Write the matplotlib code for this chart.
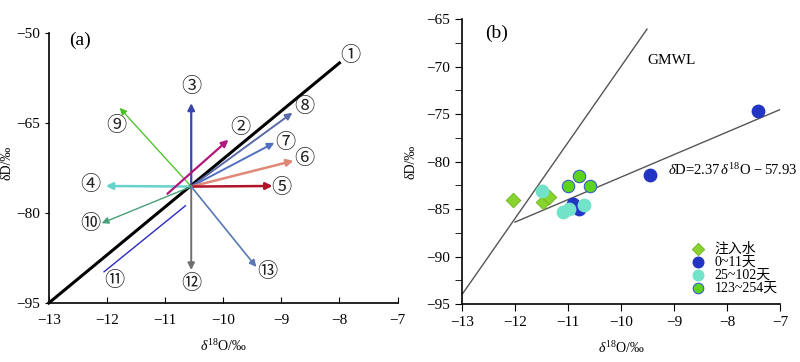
import matplotlib
matplotlib.use("Agg")
import matplotlib.pyplot as plt
from matplotlib.ticker import MultipleLocator

plt.rcParams['font.family'] = ['Liberation Serif', 'Noto Sans CJK SC', 'DejaVu Sans']
plt.rcParams['axes.unicode_minus'] = True
plt.rcParams['mathtext.fontset'] = 'custom'
plt.rcParams['mathtext.rm'] = 'Liberation Serif'
plt.rcParams['mathtext.it'] = 'Liberation Serif:italic'
plt.rcParams['mathtext.bf'] = 'Liberation Serif:bold'

# ---------- panel (a) data ----------
gmwl_a_x = [-13.0, -8.0]
gmwl_a_y = [-95.0, -55.0]
center = (-10.55, -75.6)
arrow_ids = ['③', '⑧', '⑦', '⑥', '⑤', '④', '⑨', '⑩', '⑫', '⑬']
arrow_end_x = [-10.55, -8.81, -9.12, -8.79, -9.15, -12.02, -11.78, -12.09, -10.55, -9.43]
arrow_end_y = [-61.7, -63.3, -68.3, -71.3, -75.5, -75.5, -62.5, -81.7, -89.5, -89.0]
arrow_colors = ['#3a46a8', '#5a6aa8', '#5070c0', '#e08878', '#b01428', '#66d2cc',
                '#44c020', '#4a9e7a', '#6e6e6e', '#5878b4']
arrow_widths = [1.6, 1.4, 1.4, 1.8, 1.8, 1.8, 0.9, 1.0, 1.4, 1.2]
arrow2_start = (-10.96, -76.8)
arrow2_end = (-9.91, -67.8)
line11_x = [-12.05, -10.65]
line11_y = [-89.8, -78.8]
label_ids = ['①', '②', '③', '④', '⑤', '⑥', '⑦', '⑧', '⑨', '⑩', '⑪', '⑫', '⑬']
label_x = [-7.81, -9.70, -10.55, -12.28, -9.0, -8.60, -8.93, -8.60, -11.83, -12.28, -11.87, -10.54, -9.24]
label_y = [-53.7, -65.7, -59.0, -75.2, -75.8, -71.0, -68.2, -62.3, -65.5, -81.7, -91.2, -91.7, -89.7]

# ---------- panel (b) data ----------
gmwl_b_x = [-13.0, -9.51]
gmwl_b_y = [-94.0, -66.05]
fit_x = [-12.0, -7.0]
fit_slope, fit_icpt = 2.37, -57.93
inj_x = [-12.03, -11.47, -11.35]
inj_y = [-84.03, -84.2, -83.7]
d0_x = [-9.46, -7.41, -10.91, -10.80]
d0_y = [-81.4, -74.7, -84.5, -85.0]
d25_x = [-11.50, -11.09, -10.98, -10.70]
d25_y = [-83.05, -85.3, -85.0, -84.6]
d123_x = [-11.0, -10.80, -10.59]
d123_y = [-82.6, -81.5, -82.6]
legend_labels = ['注入水', '0~11天', '25~102天', '123~254天']

fig = plt.figure(figsize=(8, 3.62), dpi=100)
axa = fig.add_axes([0.061, 0.163, 0.436, 0.746])
axb = fig.add_axes([0.5775, 0.160, 0.3975, 0.787])

for ax in (axa, axb):
    ax.spines['top'].set_visible(False)
    ax.spines['right'].set_visible(False)
    ax.spines['left'].set_linewidth(1.2)
    ax.spines['bottom'].set_linewidth(1.2)

# ---- panel a ----
axa.set_xlim(-13, -7)
axa.set_ylim(-95, -50)
axa.set_xticks([-13, -12, -11, -10, -9, -8, -7])
axa.set_yticks([-95, -80, -65, -50])
axa.tick_params(axis='x', direction='in', length=4, labelsize=11, pad=8)
axa.tick_params(axis='y', direction='out', length=3, labelsize=11)
axa.plot(gmwl_a_x, gmwl_a_y, color='black', lw=2.2, clip_on=False, zorder=3)
for ex, ey, c, w in zip(arrow_end_x, arrow_end_y, arrow_colors, arrow_widths):
    axa.annotate('', xy=(ex, ey), xytext=center,
                 arrowprops=dict(arrowstyle='-|>', color=c, lw=w,
                                 mutation_scale=10, shrinkA=0, shrinkB=0), zorder=4)
axa.annotate('', xy=arrow2_end, xytext=arrow2_start,
             arrowprops=dict(arrowstyle='-|>', color='#b0187c', lw=1.6,
                             mutation_scale=10, shrinkA=0, shrinkB=0), zorder=4)
axa.plot(line11_x, line11_y, color='#2a2ac0', lw=1.0, zorder=4)
for t, x, y in zip(label_ids, label_x, label_y):
    axa.text(x, y, t, ha='center', va='center', fontsize=14.5,
             family=['Noto Sans CJK SC', 'DejaVu Sans'], color='#222222')
axa.text(-12.47, -51.2, '(a)', fontsize=14, ha='center', va='center')
axa.set_xlabel('$\\mathit{\\delta}^{18}$O/‰', fontsize=10, labelpad=8)
axa.set_ylabel('δD/‰', fontsize=10)
axa.yaxis.set_label_coords(-0.10, 0.52)

# ---- panel b ----
axb.set_xlim(-13, -7)
axb.set_ylim(-95, -65)
axb.set_xticks([-13, -12, -11, -10, -9, -8, -7])
axb.set_yticks([-95, -90, -85, -80, -75, -70, -65])
axb.yaxis.set_minor_locator(MultipleLocator(2.5))
axb.tick_params(axis='x', direction='out', length=5, labelsize=11)
axb.tick_params(axis='y', which='major', direction='out', length=5, labelsize=11)
axb.tick_params(axis='y', which='minor', direction='out', length=5)
axb.plot(gmwl_b_x, gmwl_b_y, color='#555555', lw=1.0)
fy = [fit_slope * x + fit_icpt for x in fit_x]
axb.plot(fit_x, fy, color='#555555', lw=1.0)
axb.text(-9.50, -69.3, 'GMWL', fontsize=11, ha='left', va='center')
axb.text(-9.12, -80.9, '$\\mathit{\\delta}$D=2.37$\\,\\mathit{\\delta}^{18}$O$\\,-$57.93',
         fontsize=10.5, ha='left', va='center')
axb.text(-12.35, -66.5, '(b)', fontsize=14, ha='center', va='center')

h1 = axb.scatter(inj_x, inj_y, marker='D', s=55, color='#88d42e', edgecolors='#70b020',
                 linewidths=0.6, zorder=5)
h2 = axb.scatter(d0_x, d0_y, marker='o', s=80, color='#2234c4', edgecolors='#2234c4',
                 zorder=5)
h3 = axb.scatter(d25_x, d25_y, marker='o', s=80, color='#72e2c8', edgecolors='#72e2c8',
                 zorder=5)
h4 = axb.scatter(d123_x, d123_y, marker='o', s=80, color='#5cd41c', edgecolors='#3a60c0',
                 linewidths=0.8, zorder=6)
leg = axb.legend([h1, h2, h3, h4], legend_labels, loc='upper left',
                 bbox_to_anchor=(0.715, 0.215), frameon=False,
                 handletextpad=0.6, labelspacing=0.0, markerscale=0.85,
                 borderpad=0, borderaxespad=0, handlelength=1.2,
                 prop={'family': ['Liberation Serif', 'Noto Sans CJK SC'], 'size': 10})
axb.set_xlabel('$\\mathit{\\delta}^{18}$O/‰', fontsize=10, labelpad=8)
axb.set_ylabel('δD/‰', fontsize=10, labelpad=6)

fig.savefig('out.png', dpi=100)
